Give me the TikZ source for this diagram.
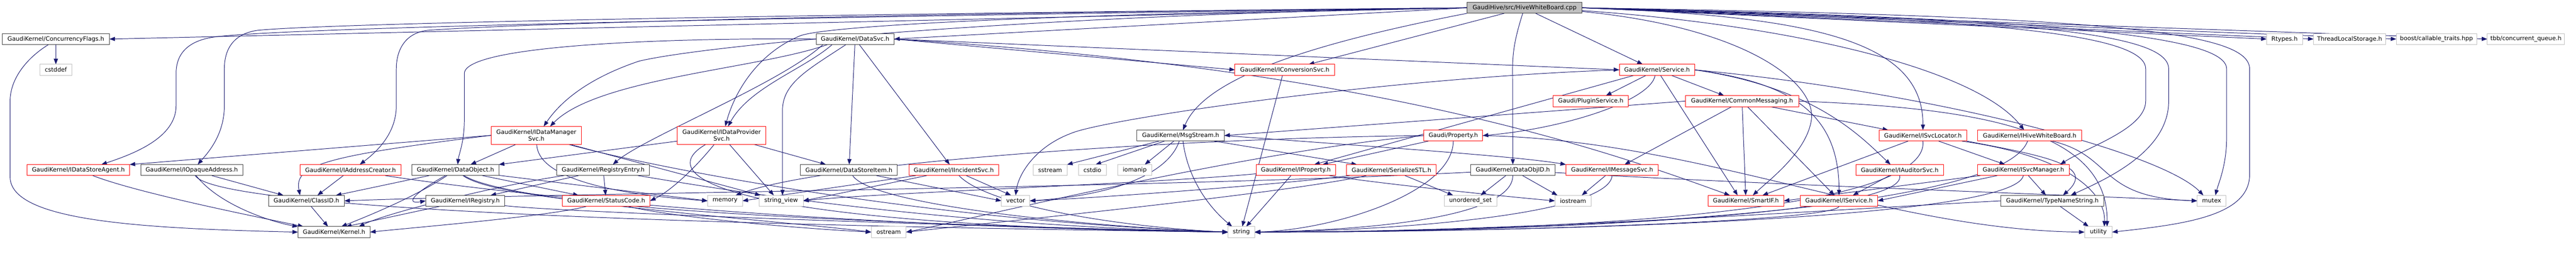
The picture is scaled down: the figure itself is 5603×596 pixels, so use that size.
\documentclass[tikz,border=0pt]{standalone}
\usepackage{fontspec}
\newfontfamily\dvs{DejaVu Sans}
\usetikzlibrary{arrows.meta}
\definecolor{edgec}{HTML}{191970}
\definecolor{boxc}{HTML}{404040}
\definecolor{redc}{HTML}{FF0000}
\definecolor{sysc}{HTML}{BFBFBF}
\definecolor{rootc}{HTML}{BFBFBF}
\pgfdeclarelayer{bg}
\pgfsetlayers{bg,main}
\tikzset{
  nb/.style={draw=boxc, line width=1.1pt, fill=white, minimum height=24pt, inner sep=0pt, outer sep=0pt, font={\dvs\fontsize{12.9pt}{15pt}\selectfont}, text=black},
  nr/.style={nb, draw=redc},
  ng/.style={nb, draw=sysc},
  nroot/.style={nb, fill=rootc, draw=boxc},
  e/.style={draw=edgec, line width=1.1pt, -{Triangle[length=12pt,width=9pt]}},
}
\begin{document}
\begin{tikzpicture}[x=1pt,y=-1pt]
\useasboundingbox (0,0) rectangle (5603,596);
% nodes
\node[nroot, minimum width=250pt] (cpp) at (3316,17) {GaudiHive/src/HiveWhiteBoard.cpp};
\node[nb, minimum width=233pt] (cf) at (121.5,85) {GaudiKernel/ConcurrencyFlags.h};
\node[ng, minimum width=69pt] (cstddef) at (121.5,152) {cstddef};
\node[nr, minimum width=223pt] (dsa) at (170.5,370) {GaudiKernel/IDataStoreAgent.h};
\node[nb, minimum width=222pt] (opa) at (417,370) {GaudiKernel/IOpaqueAddress.h};
\node[nr, minimum width=219pt] (iac) at (762.5,370) {GaudiKernel/IAddressCreator.h};
\node[nb, minimum width=189pt] (dobj) at (990.5,370) {GaudiKernel/DataObject.h};
\node[nb, minimum width=165pt] (classid) at (666.5,437) {GaudiKernel/ClassID.h};
\node[nb, minimum width=157pt] (kernel) at (726.5,505) {GaudiKernel/Kernel.h};
\node[nb, minimum width=172pt] (ireg) at (1012,437) {GaudiKernel/IRegistry.h};
\node[nr, minimum width=197pt, minimum height=39pt, align=center] (idm) at (1166.5,294.5) {GaudiKernel/IDataManager\\Svc.h};
\node[nb, minimum width=202pt] (regent) at (1312,370) {GaudiKernel/RegistryEntry.h};
\node[nr, minimum width=191pt] (sc) at (1318.5,437) {GaudiKernel/StatusCode.h};
\node[nb, minimum width=170pt] (datasvc) at (1860,85) {GaudiKernel/DataSvc.h};
\node[nr, minimum width=193pt, minimum height=39pt, align=center] (idp) at (1569.5,294.5) {GaudiKernel/IDataProvider\\Svc.h};
\node[ng, minimum width=76pt] (memory) at (1577,437) {memory};
\node[ng, minimum width=96pt] (sview) at (1699,437) {string\_view};
\node[nb, minimum width=211pt] (dsi) at (1846.5,370) {GaudiKernel/DataStoreItem.h};
\node[nr, minimum width=195pt] (iinc) at (2074.5,370) {GaudiKernel/IIncidentSvc.h};
\node[ng, minimum width=74pt] (sstream) at (2284,370) {sstream};
\node[ng, minimum width=62pt] (vector) at (2209,437) {vector};
\node[ng, minimum width=76pt] (ostream) at (1933,505) {ostream};
\node[ng, minimum width=60pt] (cstdio) at (2376,370) {cstdio};
\node[ng, minimum width=74pt] (iomanip) at (2468,370) {iomanip};
\node[nb, minimum width=190pt] (msg) at (2568,295) {GaudiKernel/MsgStream.h};
\node[nr, minimum width=217pt] (iconv) at (2794.5,152) {GaudiKernel/IConversionSvc.h};
\node[ng, minimum width=58pt] (string) at (2700,505) {string};
\node[nr, minimum width=173pt] (iprop) at (2818.5,370) {GaudiKernel/IProperty.h};
\node[nr, minimum width=128pt] (prop) at (3161,295) {Gaudi/Property.h};
\node[nr, minimum width=195pt] (ser) at (3026.5,370) {GaudiKernel/SerializeSTL.h};
\node[nb, minimum width=183pt] (doid) at (3290.5,370) {GaudiKernel/DataObjID.h};
\node[ng, minimum width=115pt] (uset) at (3198.5,437) {unordered\_set};
\node[nr, minimum width=164pt] (service) at (3604,152) {GaudiKernel/Service.h};
\node[nr, minimum width=164pt] (plugin) at (3460,220) {Gaudi/PluginService.h};
\node[nr, minimum width=246pt] (cmsg) at (3789,220) {GaudiKernel/CommonMessaging.h};
\node[nr, minimum width=201pt] (imsg) at (3506.5,370) {GaudiKernel/IMessageSvc.h};
\node[ng, minimum width=79pt] (iostream) at (3421.5,437) {iostream};
\node[nr, minimum width=165pt] (smartif) at (3797.5,437) {GaudiKernel/SmartIF.h};
\node[nr, minimum width=168pt] (iservice) at (4000,437) {GaudiKernel/IService.h};
\node[nr, minimum width=191pt] (isvcloc) at (4182.5,295) {GaudiKernel/ISvcLocator.h};
\node[nr, minimum width=190pt] (iaud) at (4132,370) {GaudiKernel/IAuditorSvc.h};
\node[nr, minimum width=227pt] (ihwb) at (4414.5,295) {GaudiKernel/IHiveWhiteBoard.h};
\node[nr, minimum width=200pt] (isvcmgr) at (4401,370) {GaudiKernel/ISvcManager.h};
\node[nb, minimum width=224pt] (tns) at (4464,437) {GaudiKernel/TypeNameString.h};
\node[ng, minimum width=60pt] (utility) at (4564,505) {utility};
\node[ng, minimum width=78pt] (rtypes) at (4969,85) {Rtypes.h};
\node[ng, minimum width=157pt] (tls) at (5110.5,85) {ThreadLocalStorage.h};
\node[ng, minimum width=175pt] (boost) at (5299.5,85) {boost/callable\_traits.hpp};
\node[ng, minimum width=168pt] (tbb) at (5494,85) {tbb/concurrent\_queue.h};
\node[ng, minimum width=63pt] (mutex) at (4810.5,437) {mutex};
% edges
\begin{pgfonlayer}{bg}
% cpp
\draw[e] (cpp.west) -- (cf.east);
\draw[e] (cpp.west) .. controls (1500,40) and (620,62) .. (470,80) .. controls (405,88) and (383,120) .. (383,160) -- (383,230) .. controls (383,300) and (290,335) .. ([xshift=50pt]dsa.north);
\draw[e] (cpp.west) .. controls (1600,32) and (700,52) .. (560,66) .. controls (505,74) and (488,110) .. (488,150) -- (488,230) .. controls (488,295) and (450,335) .. ([xshift=13pt]opa.north);
\draw[e] (cpp.west) .. controls (2000,28) and (1150,50) .. (930,66) .. controls (880,72) and (862,110) .. (862,150) -- (862,230) .. controls (862,290) and (820,330) .. ([xshift=20pt]iac.north);
\draw[e] (cpp.west) .. controls (2300,30) and (1550,95) .. (1390,133) .. controls (1280,170) and (1220,220) .. ([xshift=16pt]idm.north);
\draw[e] (cpp.west) .. controls (2300,30) and (1800,55) .. (1740,78) .. controls (1640,120) and (1595,210) .. ([xshift=8pt]idp.north);
\draw[e] (cpp.west) -- (datasvc.east);
\draw[e] (cpp.south west) .. controls (2850,95) and (2620,170) .. ([xshift=5pt]msg.north);
\draw[e] ([xshift=-44pt]cpp.south) -- ([xshift=52pt]iconv.north);
\draw[e] ([xshift=-4pt]cpp.south) .. controls (3296,80) and (3290,110) .. (3290,150) -- (doid.north);
\draw[e] ([xshift=24pt]cpp.south) -- ([xshift=-31pt]service.north);
\draw[e] (cpp.east) .. controls (3950,35) and (4183,90) .. (isvcloc.north);
\draw[e] ([yshift=-6pt]cpp.east) .. controls (3900,55) and (4300,150) .. ([xshift=-12pt]ihwb.north);
\draw[e] ([yshift=-8pt]cpp.east) .. controls (3800,60) and (3950,180) .. (3940,260) .. controls (3930,330) and (3850,390) .. ([xshift=15pt]smartif.north);
\draw[e] (cpp.east) .. controls (4300,40) and (4667,70) .. (4667,150) -- (4667,220) .. controls (4667,280) and (4540,320) .. ([xshift=80pt]isvcmgr.north);
\draw[e] (cpp.east) .. controls (4400,40) and (4717,70) .. (4717,150) -- (4717,220) .. controls (4717,330) and (4580,390) .. ([xshift=40pt]tns.north);
\draw[e] (cpp.east) .. controls (4500,40) and (4843,80) .. (4843,150) -- (4843,300) .. controls (4843,360) and (4825,400) .. ([xshift=8pt]mutex.north);
\draw[e] (cpp.east) .. controls (4600,35) and (4893,70) .. (4893,150) -- (4893,380) .. controls (4893,470) and (4750,488) .. (utility.east);
\draw[e] (cpp.east) -- (rtypes.west);
\draw[e] (cpp.east) -- (tls.west);
\draw[e] (cpp.east) -- (boost.west);
\draw[e] (cpp.east) -- (tbb.west);
% cf
\draw[e] (cf) -- (cstddef);
\draw[e] ([xshift=-16pt]cf.south) .. controls (60,125) and (22,170) .. (22,220) -- (22,385) .. controls (22,480) and (300,497) .. (kernel.west);
% opa
\draw[e] (opa) -- ([xshift=-50pt]classid.north);
\draw[e] (opa) .. controls (480,450) and (600,485) .. (kernel.north west);
\draw[e] (opa) .. controls (470,455) and (1500,490) .. (string.west);
% dsa
\draw[e] (dsa) .. controls (300,420) and (550,470) .. ([xshift=12pt]kernel.north west);
% iac
\draw[e] (iac) -- ([xshift=24pt]classid.north);
\draw[e] (iac) .. controls (950,400) and (1600,490) .. (string.west);
% dobj
\draw[e] (dobj) -- ([xshift=64pt]classid.north);
\draw[e] (dobj) .. controls (900,420) and (880,445) .. (ireg.west);
\draw[e] (dobj) -- ([xshift=-60pt]sc.north);
\draw[e] (dobj) .. controls (900,430) and (800,470) .. ([xshift=16pt]kernel.north);
\draw[e] (dobj) .. controls (1100,450) and (1800,485) .. (string.west);
\draw[e] (dobj) .. controls (1100,440) and (1700,480) .. (ostream.west);
\draw[e] (dobj) -- (memory.west);
% classid
\draw[e] (classid) -- ([xshift=-13pt]kernel.north);
% ireg
\draw[e] (ireg) -- ([xshift=26pt]kernel.north);
\draw[e] (ireg) .. controls (1200,460) and (2000,490) .. (string.west);
% regent
\draw[e] (regent) -- ([xshift=55pt]ireg.north);
\draw[e] (regent) -- (sc);
\draw[e] (regent) .. controls (1100,400) and (850,460) .. ([xshift=54pt]kernel.north);
\draw[e] (regent) .. controls (1500,400) and (2000,490) .. (string.west);
% sc
\draw[e] (sc) .. controls (1200,470) and (900,495) .. (kernel.east);
\draw[e] (sc) .. controls (1450,470) and (1700,495) .. (ostream.west);
% idm
\draw[e] (idm.west) -- (dsa.north east);
\draw[e] (idm.west) .. controls (700,340) and (640,360) .. ([xshift=-14pt]classid.north);
\draw[e] (idm) -- ([xshift=33pt]dobj.north);
\draw[e] (idm) -- (sview);
\draw[e] (idm) .. controls (1170,380) and (1300,420) .. (memory.west);
\draw[e] (idm) .. controls (1400,360) and (2000,480) .. (string.west);
% idp
\draw[e] (idp) -- (dobj.north east);
\draw[e] (idp) -- ([xshift=-16pt]sview.north);
\draw[e] (idp) -- ([xshift=-50pt]dsi.north);
\draw[e] (idp) .. controls (1500,380) and (1450,420) .. (sc.east);
\draw[e] (idp) .. controls (1420,380) and (1550,490) .. (string.west);
% datasvc
\draw[e] (datasvc.west) .. controls (1500,82) and (1010,95) .. (1010,160) -- (1010,260) .. controls (1010,310) and (998,335) .. ([xshift=5pt]dobj.north);
\draw[e] ([xshift=-60pt]datasvc.south) .. controls (1650,150) and (1300,170) .. ([xshift=30pt]idm.north);
\draw[e] ([xshift=-50pt]datasvc.south) .. controls (1750,150) and (1630,190) .. ([xshift=14pt]idp.north);
\draw[e] ([xshift=-20pt]datasvc.south) .. controls (1760,150) and (1702,180) .. (1702,240) -- ([xshift=3pt]sview.north);
\draw[e] (datasvc) -- (dsi);
\draw[e] (datasvc) -- (iinc);
\draw[e] ([xshift=-70pt]datasvc.south) .. controls (1700,180) and (1400,300) .. ([xshift=21pt]regent.north);
\draw[e] (datasvc.east) -- (iconv.west);
\draw[e] (datasvc.east) -- (service.west);
\draw[e] (datasvc.east) .. controls (3000,150) and (3500,330) .. ([xshift=-35pt]smartif.north);
% dsi
\draw[e] (dsi) .. controls (1900,450) and (2400,495) .. (string.west);
\draw[e] (dsi) -- (vector.west);
% iinc
\draw[e] (iinc) -- ([xshift=-10pt]vector.north);
\draw[e] (iinc) .. controls (2150,450) and (2450,495) .. (string.west);
\draw[e] (iinc) -- (memory.east);
\draw[e] (iinc) -- (sview.east);
% msg
\draw[e] (msg) -- (sstream.north east);
\draw[e] (msg) -- ([xshift=7pt]cstdio.north);
\draw[e] (msg) -- ([xshift=22pt]iomanip.north);
\draw[e] ([xshift=5pt]msg.south) .. controls (2585,400) and (2640,460) .. ([xshift=-20pt]string.north);
\draw[e] ([xshift=-3pt]msg.south) .. controls (2540,380) and (2420,425) .. (vector.east);
\draw[e] (msg) -- ([xshift=-75pt]ser.north);
\draw[e] (msg.east) .. controls (3000,320) and (3300,340) .. (imsg.north west);
% iconv
\draw[e] ([xshift=-5pt]iconv.south) -- ([xshift=2pt]string.north);
% iprop
\draw[e] (iprop) -- (string);
\draw[e] (iprop) .. controls (2500,400) and (1900,420) .. (sview.east);
\draw[e] (iprop) .. controls (3000,400) and (3300,430) .. (iostream.west);
% prop
\draw[e] (prop) -- ([xshift=58pt]iprop.north);
\draw[e] (prop.south) .. controls (3160,420) and (2900,500) .. (string.east);
\draw[e] (prop.west) .. controls (2600,300) and (1800,350) .. ([xshift=23pt]memory.north);
\draw[e] (prop.west) .. controls (2700,330) and (2100,480) .. (ostream.east);
\draw[e] (prop.east) .. controls (3700,305) and (4100,500) .. (utility.west);
% ser
\draw[e] (ser) -- ([xshift=-38pt]uset.north);
\draw[e] (ser) .. controls (2800,420) and (2200,480) .. (ostream.east);
\draw[e] (ser) .. controls (2800,400) and (2400,430) .. (vector.east);
% doid
\draw[e] (doid) -- ([xshift=22pt]uset.north);
\draw[e] (doid) -- ([xshift=-34pt]iostream.north);
\draw[e] (doid.south) .. controls (3290,470) and (3000,500) .. (string.east);
\draw[e] (doid) .. controls (2500,410) and (1200,420) .. (classid.east);
\draw[e] (doid) .. controls (3800,400) and (4400,420) .. (mutex.west);
% service
\draw[e] (service.west) .. controls (3000,170) and (2400,260) .. (2330,290) .. controls (2250,320) and (2215,380) .. (vector.north);
\draw[e] (service) -- ([xshift=33pt]plugin.north);
\draw[e] (service) -- ([xshift=-39pt]cmsg.north);
\draw[e] ([xshift=-4pt]service.south) .. controls (3590,220) and (3400,280) .. (prop.east);
\draw[e] ([xshift=-50pt]service.south) -- ([xshift=40pt]iprop.north);
\draw[e] (service) -- ([xshift=-18pt]smartif.north);
\draw[e] (service.east) .. controls (3900,180) and (4000,250) .. (iservice.north);
\draw[e] (service.east) .. controls (3950,190) and (4050,300) .. ([xshift=-20pt]iaud.north);
\draw[e] (service.east) .. controls (4200,200) and (4700,330) .. ([xshift=-18pt]mutex.north);
% cmsg
\draw[e] (cmsg.west) -- (msg.east);
\draw[e] (cmsg) -- ([xshift=27pt]imsg.north);
\draw[e] (cmsg) -- ([xshift=20pt]isvcloc.north west);
\draw[e] (cmsg) -- (smartif);
\draw[e] (cmsg) -- ([xshift=-10pt]iservice.north);
\draw[e] (cmsg.east) .. controls (4300,235) and (4585,280) .. ([xshift=19pt]utility.north);
% imsg
\draw[e] (imsg) -- ([xshift=19pt]iostream.north);
\draw[e] (imsg.south) .. controls (3500,460) and (3100,500) .. (string.east);
% isvcloc
\draw[e] (isvcloc) -- ([xshift=-40pt]isvcmgr.north);
\draw[e] (isvcloc) -- ([xshift=36pt]smartif.north);
\draw[e] (isvcloc.south east) .. controls (4450,340) and (4560,360) .. ([xshift=23pt]tns.north);
\draw[e] (isvcloc) .. controls (4500,340) and (4580,420) .. ([xshift=13pt]utility.north);
\draw[e] (isvcloc.south) .. controls (4200,480) and (3200,505) .. (string.east);
% ihwb
\draw[e] (ihwb) .. controls (4600,340) and (4560,430) .. (mutex.west);
\draw[e] (ihwb) .. controls (4350,470) and (3300,505) .. (string.east);
% iaud
\draw[e] (iaud) -- ([xshift=30pt]iservice.north);
\draw[e] (iaud.south) .. controls (4150,470) and (3300,505) .. (string.east);
% isvcmgr
\draw[e] (isvcmgr) -- ([xshift=-14pt]tns.north);
\draw[e] (isvcmgr) -- (smartif.east);
\draw[e] (isvcmgr) -- (iservice.east);
\draw[e] (isvcmgr.south) .. controls (4380,480) and (3300,505) .. (string.east);
% tns
\draw[e] (tns) -- ([xshift=-21pt]utility.north);
\draw[e] (tns.west) .. controls (4000,455) and (3300,505) .. (string.east);
% iservice
\draw[e] (iservice.south) .. controls (3990,480) and (3300,505) .. (string.east);
\end{pgfonlayer}
\end{tikzpicture}
\end{document}
